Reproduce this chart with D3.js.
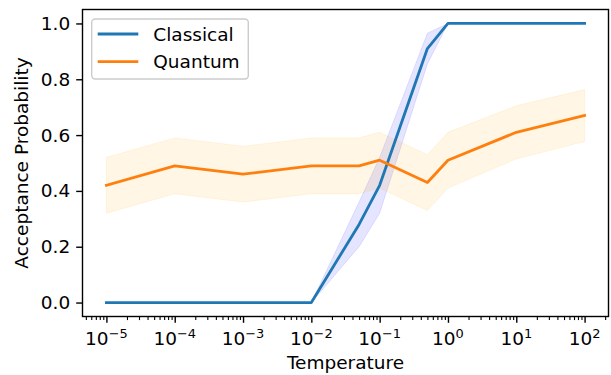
<!doctype html>
<html>
<head>
<meta charset="utf-8">
<title></title>
<style>
body{ margin:0; background:#fff; }
text{ font-family:"DejaVu Sans",sans-serif; fill:#000; }
</style>
</head>
<body>
<svg></svg>
<script src="https://cdn.jsdelivr.net/npm/d3@7"></script>
<script>
var temps = [1e-5, 1e-4, 1e-3, 1e-2, 5e-2, 1e-1, 5e-1, 1, 10, 100];
var classicalMean = [0, 0, 0, 0, 0.28, 0.42, 0.91, 1, 1, 1];
var classicalStd  = [0, 0, 0, 0, 0.08, 0.10, 0.055, 0, 0, 0];
var quantumMean = [0.42, 0.49, 0.46, 0.49, 0.49, 0.51, 0.43, 0.51, 0.61, 0.67];
var quantumStd  = [0.10, 0.10, 0.10, 0.10, 0.10, 0.10, 0.10, 0.10, 0.095, 0.093];
var yTicks = [0, 0.2, 0.4, 0.6, 0.8, 1.0];
var xExponents = [-5, -4, -3, -2, -1, 0, 1, 2];
var seriesNames = ['Classical', 'Quantum'];

var width = 611, height = 375;
// plot box (note: "top" is reserved on window, so use px names)
var pxL = 82.5, pxR = 608.5, pxT = 9.5, pxB = 316.5;
var fs = 18.5;

var svg = d3.select('svg').attr('width', width).attr('height', height);

// log x with 5% margins in log space
var lx0 = Math.log10(temps[0]), lx1 = Math.log10(temps[temps.length-1]);
var mx = (lx1 - lx0) * 0.05;
var x = d3.scaleLog().domain([Math.pow(10, lx0-mx), Math.pow(10, lx1+mx)]).range([pxL, pxR]);
var y = d3.scaleLinear().domain([-0.05, 1.05]).range([pxB, pxT]);

function band(mean, std) {
  return d3.area()
    .x(function(d, i){ return x(temps[i]); })
    .y0(function(d, i){ return y(mean[i] - std[i]); })
    .y1(function(d, i){ return y(mean[i] + std[i]); })(mean);
}
function line(mean) {
  return d3.line()
    .x(function(d, i){ return x(temps[i]); })
    .y(function(d){ return y(d); })(mean);
}

var g = svg.append('g');
g.append('path').attr('d', band(classicalMean, classicalStd))
  .attr('fill', 'blue').attr('fill-opacity', 0.1)
  .attr('stroke', 'blue').attr('stroke-opacity', 0.1).attr('stroke-width', 1);
g.append('path').attr('d', band(quantumMean, quantumStd))
  .attr('fill', 'orange').attr('fill-opacity', 0.1)
  .attr('stroke', 'orange').attr('stroke-opacity', 0.1).attr('stroke-width', 1);
g.append('path').attr('d', line(classicalMean))
  .attr('fill', 'none').attr('stroke', '#1f77b4').attr('stroke-width', 2.8)
  .attr('stroke-linejoin', 'round').attr('stroke-linecap', 'square');
g.append('path').attr('d', line(quantumMean))
  .attr('fill', 'none').attr('stroke', '#ff7f0e').attr('stroke-width', 2.8)
  .attr('stroke-linejoin', 'round').attr('stroke-linecap', 'square');

// y axis
var yAxis = d3.axisLeft(y).tickValues(yTicks).tickFormat(d3.format('.1f'))
  .tickSize(6.3).tickPadding(6);
var ya = svg.append('g').attr('transform', 'translate(' + pxL + ',0)').call(yAxis);
ya.select('.domain').remove();
ya.selectAll('.tick line').attr('stroke-width', 1.4);
ya.selectAll('.tick text').style('font-size', fs + 'px').attr('font-family', null);

// x axis: major ticks
var xAxis = d3.axisBottom(x).tickValues(xExponents.map(function(e){ return Math.pow(10, e); }))
  .tickFormat('').tickSize(6.3);
var xa = svg.append('g').attr('transform', 'translate(0,' + pxB + ')').call(xAxis);
xa.select('.domain').remove();
xa.selectAll('.tick line').attr('stroke-width', 1.4);

// minor ticks
var minors = [];
for (var e = -6; e <= 2; e++) for (var k = 2; k <= 9; k++) {
  var v = k * Math.pow(10, e);
  if (v >= x.domain()[0] && v <= x.domain()[1]) minors.push(v);
}
var xm = svg.append('g').attr('transform', 'translate(0,' + pxB + ')')
  .call(d3.axisBottom(x).tickValues(minors).tickFormat('').tickSize(3.6));
xm.select('.domain').remove();
xm.selectAll('.tick line').attr('stroke-width', 1.1);

// x tick labels 10^e
var xl = svg.append('g');
xExponents.forEach(function(e){
  var t = xl.append('text').attr('x', x(Math.pow(10, e))).attr('y', pxB + 12.6 + 16)
    .attr('text-anchor', 'middle').style('font-size', fs + 'px');
  t.append('tspan').text('10');
  t.append('tspan').attr('dy', -7.5).style('font-size', (fs*0.7) + 'px')
    .text(e < 0 ? '\u2212' + (-e) : String(e));
});

// frame
svg.append('rect').attr('x', pxL).attr('y', pxT).attr('width', pxR-pxL).attr('height', pxB-pxT)
  .attr('fill', 'none').attr('stroke', '#000').attr('stroke-width', 1.4);

// axis labels
svg.append('text').attr('x', (pxL+pxR)/2).attr('y', 369).attr('text-anchor', 'middle')
  .style('font-size', fs + 'px').text('Temperature');
svg.append('text').attr('transform', 'translate(28,' + ((pxT+pxB)/2) + ') rotate(-90)')
  .attr('text-anchor', 'middle').style('font-size', fs + 'px').text('Acceptance Probability');

// legend
var lg = svg.append('g');
lg.append('rect').attr('x', 91.7).attr('y', 19).attr('width', 156.6).attr('height', 60)
  .attr('rx', 3.5).attr('fill', '#fff').attr('fill-opacity', 0.8)
  .attr('stroke', '#ccc').attr('stroke-width', 1.4);
var colors = ['#1f77b4', '#ff7f0e'];
seriesNames.forEach(function(name, i){
  var yy = 34 + i * 27.7;
  lg.append('line').attr('x1', 97.7).attr('x2', 138.3).attr('y1', yy).attr('y2', yy)
    .attr('stroke', colors[i]).attr('stroke-width', 2.8);
  lg.append('text').attr('x', 153.3).attr('y', yy + 6.5).style('font-size', fs + 'px').text(name);
});
</script>
</body>
</html>
